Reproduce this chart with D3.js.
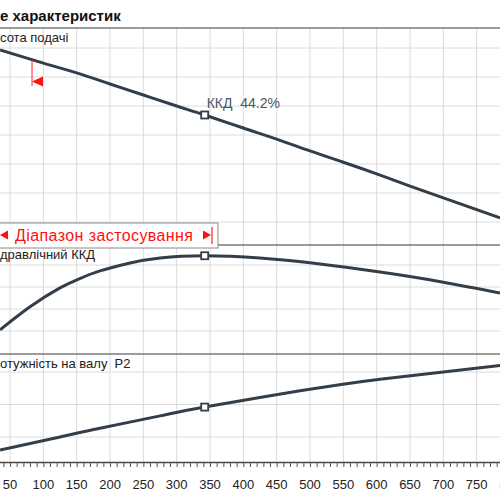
<!DOCTYPE html>
<html>
<head>
<meta charset="utf-8">
<script src="https://cdn.jsdelivr.net/npm/d3@7"></script>
<style>
  body { margin: 0; background: #fff; }
  svg { display: block; font-family: "Liberation Sans", Arial, sans-serif; }
  text { white-space: pre; }
</style>
</head>
<body>
<div id="chart"></div>
<script>
// flow values (x axis)
const flow = [35, 100, 150, 200, 250, 300, 342, 400, 450, 500, 550, 600, 650, 700, 785];
const head = [69.3, 64.8, 61.4, 57.6, 53.8, 50.0, 46.9, 42.4, 38.6, 34.5, 30.6, 26.6, 22.4, 18.3, 11.4];
const effFlow = [35, 80, 125, 155, 185, 230, 275, 342, 425, 500, 605, 700, 785];
const efficiency = [10.5, 21.0, 29.6, 33.9, 37.3, 40.9, 43.2, 44.2, 43.2, 41.0, 36.8, 32.2, 27.3];
const powerFlow = [35, 125, 185, 275, 342, 485, 605, 785];
const power = [0.6, 1.0, 1.27, 1.65, 1.92, 2.42, 2.78, 3.2];
const xTicks = d3.range(50, 801, 50);
const dutyFlow = 342;
const rangeStart = 83;
const rangeEnd = 353;

const width = 500, height = 500;
const lineColor = "#343e48";

const svg = d3.select("#chart").append("svg")
  .attr("width", width).attr("height", height);

const x = d3.scaleLinear().domain([0, 800]).range([-23.3, 510]);

// panels: head, efficiency, power
const panels = [
  { top: 28, y: d3.scaleLinear().domain([10, 70]).range([222, 48]), ticks: d3.range(10, 71, 10),
    xs: flow, ys: head, label: "сота подачі" },
  { top: 245, y: d3.scaleLinear().domain([10, 40]).range([331, 265]), ticks: [10, 20, 30, 40],
    xs: effFlow, ys: efficiency, label: "дравлічний ККД" },
  { top: 354, y: d3.scaleLinear().domain([1, 3]).range([437, 372]), ticks: [1, 2, 3],
    xs: powerFlow, ys: power, label: "отужність на валу  P2" },
];

// vertical grid
svg.append("g").selectAll("line").data(xTicks).join("line")
  .attr("x1", (d) => x(d)).attr("x2", (d) => x(d))
  .attr("y1", 28).attr("y2", 462)
  .attr("stroke", "#dcdcdc").attr("stroke-width", 1);

panels.forEach((p) => {
  svg.append("g").selectAll("line").data(p.ticks).join("line")
    .attr("x1", 0).attr("x2", width)
    .attr("y1", (d) => p.y(d)).attr("y2", (d) => p.y(d))
    .attr("stroke", "#dcdcdc").attr("stroke-width", 1);
});

// panel separators
svg.append("g").selectAll("line").data([28, 245, 354]).join("line")
  .attr("x1", 0).attr("x2", width)
  .attr("y1", (d) => d).attr("y2", (d) => d)
  .attr("stroke", "#7a7a7a").attr("stroke-width", 1.5);

// curves
panels.forEach((p) => {
  const line = d3.line()
    .x((d) => x(d[0]))
    .y((d) => p.y(d[1]))
    .curve(d3.curveNatural);
  svg.append("path")
    .attr("d", line(d3.zip(p.xs, p.ys)))
    .attr("fill", "none")
    .attr("stroke", lineColor)
    .attr("stroke-width", 3);
  svg.append("text")
    .attr("x", 0).attr("y", p.top + 14)
    .attr("font-size", 13).attr("fill", "#222")
    .text(p.label);
});

// duty point markers
const interp = (xs, ys, v) => {
  const i = d3.bisectLeft(xs, v);
  if (xs[i] === v) return ys[i];
  const t = (v - xs[i - 1]) / (xs[i] - xs[i - 1]);
  return ys[i - 1] + t * (ys[i] - ys[i - 1]);
};
panels.forEach((p) => {
  const yv = interp(p.xs, p.ys, dutyFlow);
  svg.append("rect")
    .attr("x", x(dutyFlow) - 3.5).attr("y", p.y(yv) - 3.5)
    .attr("width", 7).attr("height", 7)
    .attr("fill", "#fff").attr("stroke", lineColor).attr("stroke-width", 1.8);
});

svg.append("text")
  .attr("x", x(dutyFlow) + 2).attr("y", panels[0].y(interp(flow, head, dutyFlow)) - 7)
  .attr("font-size", 14).attr("fill", "#4a5868")
  .text("ККД  44.2%");

// range start marker in head panel
const rs = x(rangeStart);
svg.append("line")
  .attr("x1", rs).attr("x2", rs).attr("y1", 60).attr("y2", 86)
  .attr("stroke", "#ff2020").attr("stroke-width", 1);
svg.append("path")
  .attr("d", `M${rs},${81.5}L${rs + 11},${76.5}L${rs + 11},${86.5}Z`)
  .attr("fill", "#ff1010");

// application range box
const re = x(rangeEnd);
svg.append("rect")
  .attr("x", -5).attr("y", 223).attr("width", re + 6 + 5).attr("height", 25)
  .attr("fill", "#fff").attr("stroke", "#8a8a8a").attr("stroke-width", 1);
svg.append("line")
  .attr("x1", re).attr("x2", re).attr("y1", 227).attr("y2", 244)
  .attr("stroke", "#ff2020").attr("stroke-width", 1.2);
svg.append("path")
  .attr("d", "M0,235L8,230.5L8,239.5Z").attr("fill", "#ff1010");
svg.append("path")
  .attr("d", `M${re - 1},235L${re - 9},230.5L${re - 9},239.5Z`).attr("fill", "#ff1010");
svg.append("text")
  .attr("x", 15).attr("y", 241)
  .attr("font-size", 16).attr("fill", "#ff1010")
  .attr("textLength", 178)
  .text("Діапазон застосування");

// title
svg.append("text")
  .attr("x", 0).attr("y", 21)
  .attr("font-size", 15).attr("font-weight", "bold").attr("fill", "#111")
  .text("е характеристик");

// x axis
const axis = svg.append("g").attr("transform", "translate(0,462)");
axis.call(d3.axisBottom(x).tickValues(d3.range(0, 801, 10)).tickSize(5).tickFormat(""))
  .call((g) => g.select(".domain").attr("stroke", "#444").attr("stroke-width", 1.5))
  .call((g) => g.selectAll(".tick line").attr("stroke", "#555"));
axis.selectAll("text.lbl").data(xTicks).join("text")
  .attr("class", "lbl")
  .attr("x", (d) => x(d)).attr("y", 27)
  .attr("text-anchor", "middle")
  .attr("font-size", 13).attr("fill", "#222")
  .text((d) => d);
</script>
</body>
</html>
